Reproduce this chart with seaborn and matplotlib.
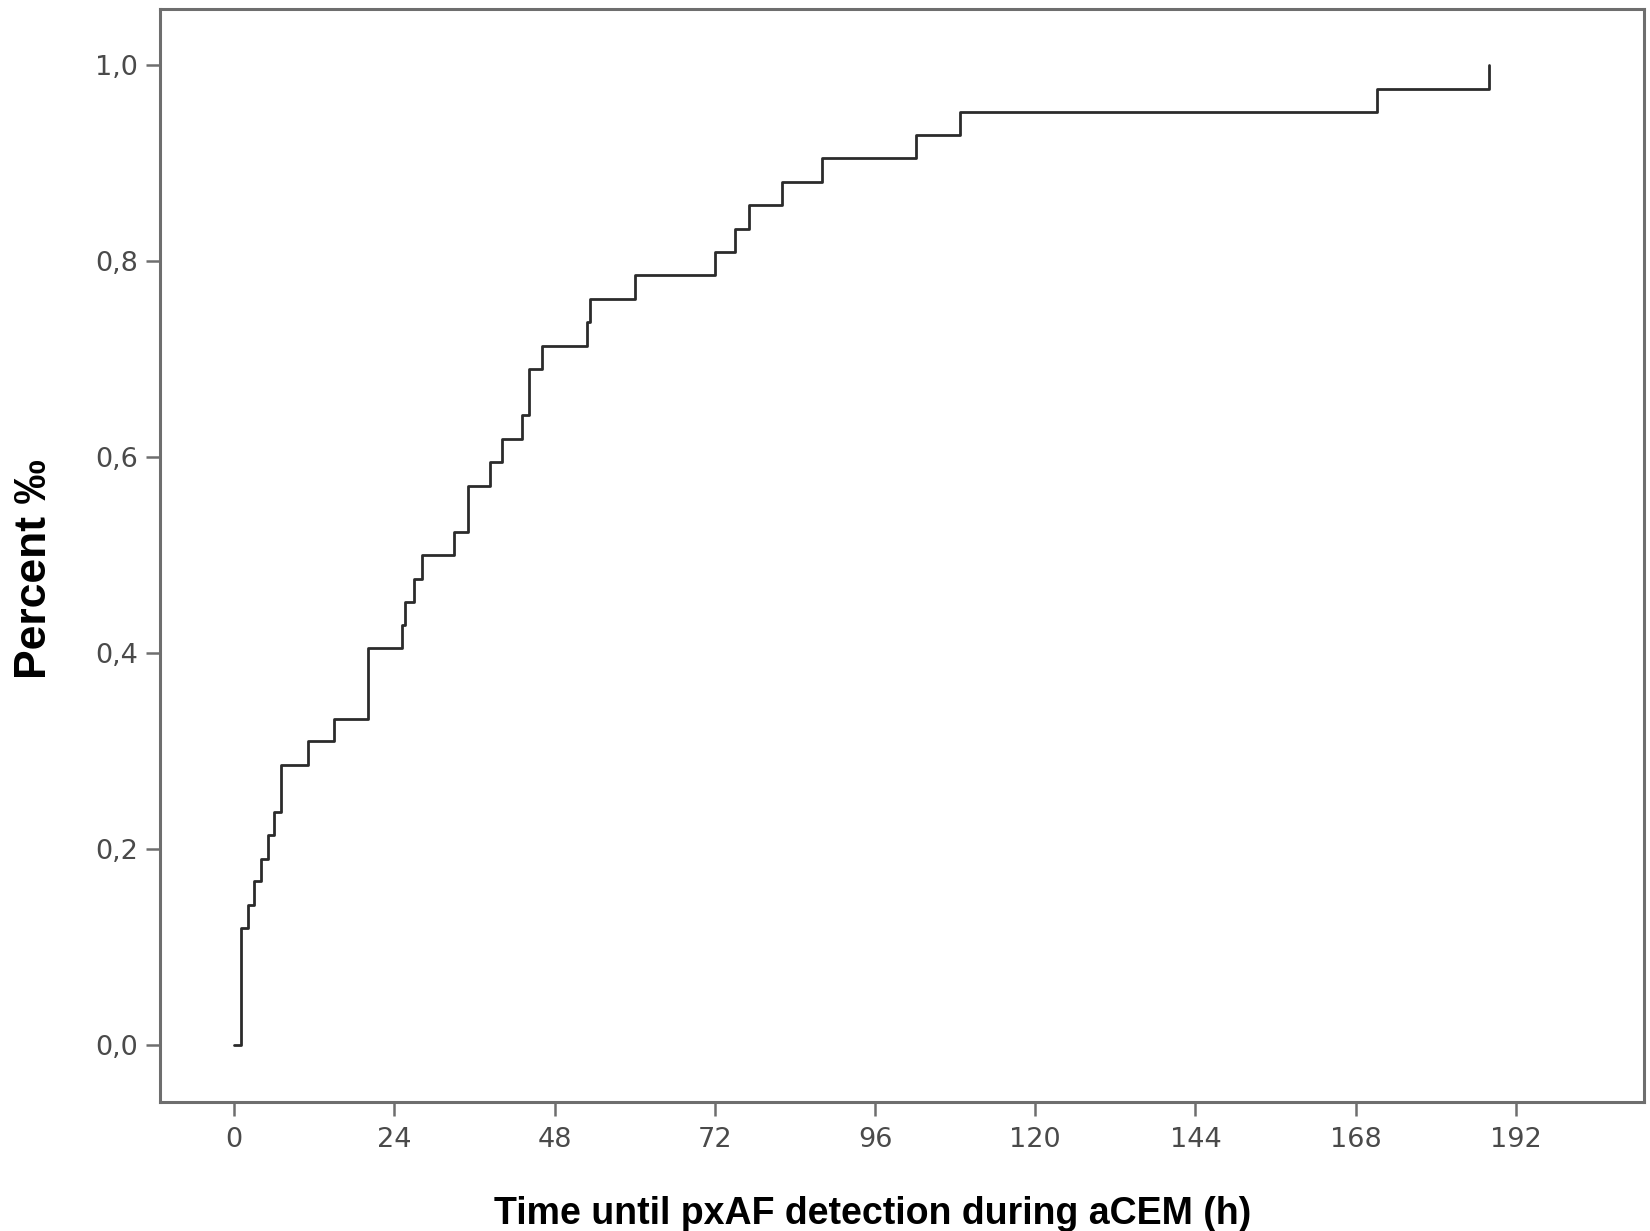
import matplotlib
matplotlib.use("Agg")
import matplotlib.pyplot as plt
import seaborn as sns
import pandas as pd
from matplotlib.ticker import FuncFormatter

# ================= Data =================
hours = [0, 1.0, 2.1, 3.0, 4.0, 5.0, 6.0, 7.0, 11.0, 15.0, 20.0, 25.1, 25.6, 26.9,
         28.1, 33.0, 35.0, 38.3, 40.1, 43.1, 44.2, 46.1, 52.9, 53.3, 60.1, 72.1,
         75.1, 77.1, 82.0, 88.0, 102.1, 108.7, 171.2, 188.0]
cum_share = [0.0, 0.119, 0.143, 0.167, 0.190, 0.214, 0.238, 0.286, 0.310, 0.333,
             0.405, 0.429, 0.452, 0.476, 0.500, 0.524, 0.571, 0.595, 0.619, 0.643,
             0.690, 0.714, 0.738, 0.762, 0.786, 0.810, 0.833, 0.857, 0.881, 0.905,
             0.929, 0.952, 0.976, 1.0]
x_ticks = [0, 24, 48, 72, 96, 120, 144, 168, 192]
y_ticks = [0.0, 0.2, 0.4, 0.6, 0.8, 1.0]

AXIS_GREY = "#6e6e6e"
TICK_TEXT = "#4a4a4a"
LABEL_FONT = ["Liberation Sans", "DejaVu Sans"]

sns.set_theme(style="white")
plt.rcParams['font.family'] = ['DejaVu Sans']

df = pd.DataFrame({"Time": hours, "Share": cum_share})

fig = plt.figure(figsize=(16.5, 12.31), dpi=100)
ax = fig.add_axes([0.097, 0.105, 0.8994, 0.888])

# step curve, value held until next detection
sns.lineplot(data=df, x="Time", y="Share", ax=ax, estimator=None,
             drawstyle="steps-post", color="#2b2b2b", linewidth=2.0)

ax.set_xlim(-11.1, 211.2)
ax.set_ylim(-0.058, 1.058)
ax.set_xticks(x_ticks)
ax.set_yticks(y_ticks)
ax.yaxis.set_major_formatter(FuncFormatter(lambda v, p: f"{v:.1f}".replace(".", ",")))

for s in ax.spines.values():
    s.set_visible(True)
    s.set_color(AXIS_GREY)
    s.set_linewidth(2.2)

ax.tick_params(axis="both", direction="out", length=10, width=1.8, color=AXIS_GREY,
               labelsize=19.5, labelcolor=TICK_TEXT, pad=6, bottom=True, left=True)
ax.tick_params(axis="x", pad=8)
ax.grid(False)

ax.set_xlabel("Time until pxAF detection during aCEM (h)", fontsize=27,
              fontweight="bold", family=LABEL_FONT, color="black")
ax.set_ylabel("Percent ‰", fontsize=32, fontweight="bold",
              family=LABEL_FONT, color="black")
ax.xaxis.label.set_va("center")
ax.yaxis.label.set_va("center")
ax.xaxis.set_label_coords(0.48, -0.103)
ax.yaxis.set_label_coords(-0.0845, 0.487)

fig.savefig("out.png", dpi=100, facecolor="white")
